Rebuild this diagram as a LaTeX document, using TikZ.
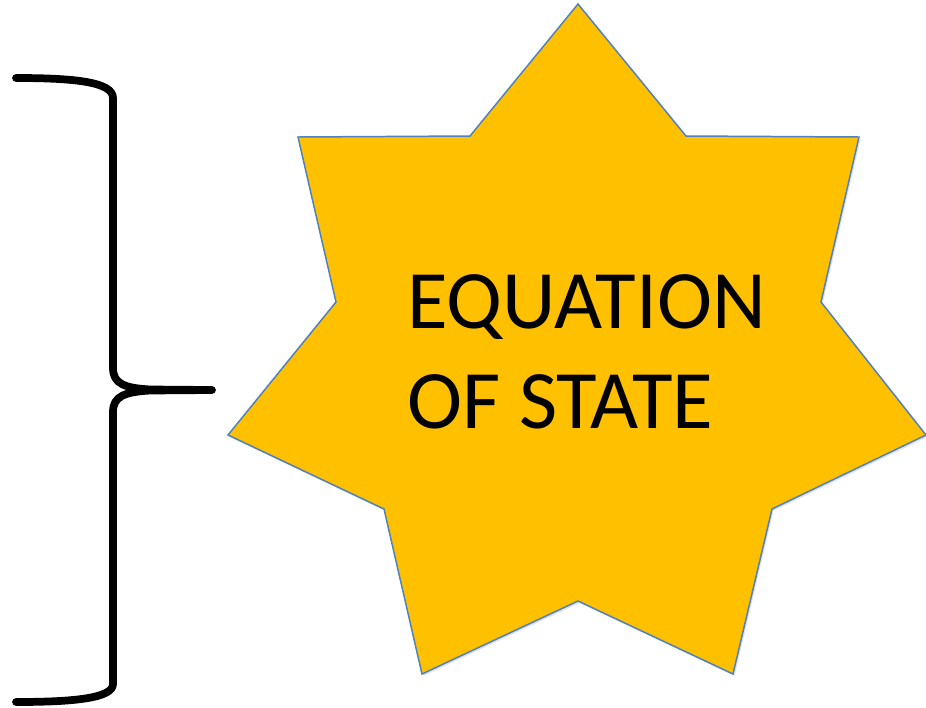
\documentclass[tikz,border=0pt]{standalone}
\usepackage{fontspec}
\setmainfont{Carlito}
\usepackage{tikz}
\usetikzlibrary{shadows}
\definecolor{stargold}{HTML}{FFC000}
\definecolor{edgeblue}{HTML}{4F81BD}
\tikzset{
    bracestroke/.style={draw=black, line width=4.4pt, line cap=round, line join=round},
    starfill/.style={fill=stargold, draw=edgeblue, line width=0.85pt, line join=miter,
        drop shadow={shadow xshift=0.9pt, shadow yshift=-1.1pt, opacity=0.22}},
    eostext/.style={align=left, inner sep=0pt, anchor=base west, text=black,
        font=\fontsize{47.3}{56.9}\selectfont}
}
\begin{document}
\begin{tikzpicture}[x=0.02cm, y=-0.02cm]
        \useasboundingbox (0,0) rectangle (926,707);
        % curly brace on the left
        \coordinate (btop) at (16,78);
        \coordinate (btip) at (212,390);
        \coordinate (bbot) at (16,702);
        \draw[bracestroke] (btop) .. controls (75,78) and (113,82) .. (113,98)
            -- (113,368) .. controls (113,384) and (125,388) .. (150,389.5) -- (btip)
            -- (150,390.5) .. controls (125,392) and (113,396) .. (113,412)
            -- (113,684) .. controls (113,698) and (75,702) .. (bbot);
        % seven pointed star
        \draw[starfill] (578,4) -- (686,136) -- (859,137) -- (821,302) -- (926,435)
            -- (772,509) -- (733,674) -- (578,601) -- (422,674) -- (384,509)
            -- (228,435) -- (336,302) -- (298,137) -- (470,136) -- cycle;
        \node[eostext] (eos) at (407,428) {EQUATION\\OF STATE};
    \end{tikzpicture}
\end{document}
